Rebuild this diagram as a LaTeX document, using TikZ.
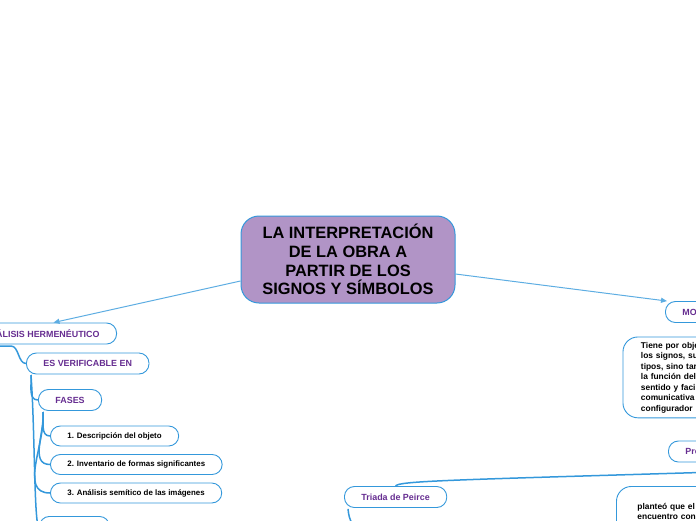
\documentclass[tikz,border=0pt]{standalone}
\usepackage{fontspec}
\setmainfont{Liberation Sans}
\usepackage{tikz}
\usetikzlibrary{arrows.meta,positioning}
\definecolor{mapblue}{RGB}{52,152,219}
\definecolor{linkblue}{RGB}{93,173,226}
\definecolor{hubfill}{RGB}{177,148,198}
\definecolor{labelpurple}{RGB}{102,45,145}

\begin{document}
\begin{tikzpicture}[x=1pt,y=-1pt,
  hub/.style={draw=mapblue,line width=1pt,fill=hubfill,rounded corners=18pt,minimum width=214pt,minimum height=87pt,align=center,font=\fontsize{16.4}{18.7}\selectfont\bfseries},
  topic/.style={draw=mapblue,line width=0.9pt,fill=white,rounded corners=10pt,minimum height=21pt,inner xsep=17pt,inner ysep=0pt,text=labelpurple,font=\fontsize{8.9}{10}\selectfont\bfseries},
  leaf/.style={topic,text=black,minimum height=20pt,font=\fontsize{7.9}{9}\selectfont\bfseries},
  note/.style={draw=mapblue,line width=0.9pt,fill=white,rounded corners=15pt,anchor=north west,align=left,inner xsep=18pt,inner ysep=5pt,text width=90pt,font=\fontsize{8.4}{10.5}\selectfont\bfseries},
  link/.style={linkblue,line width=1pt,-{Triangle[length=6pt,width=5pt]}},
  branch/.style={mapblue,line width=1.5pt}]
\useasboundingbox (0,0) rectangle (696,520);
% central topic
\node[hub] (hub) at (348,259.5) {LA INTERPRETACIÓN\\DE LA OBRA A\\PARTIR DE LOS\\SIGNOS Y SÍMBOLOS};
% left: analisis hermeneutico
\node[topic,anchor=east] (analisis) at (117,333.5) {ANÁLISIS HERMENÉUTICO};
\node[topic,anchor=west] (verifica) at (26,363.5) {ES VERIFICABLE EN};
\node[topic,anchor=west] (fases) at (38,400) {FASES};
\node[leaf,anchor=west] (fase1) at (50,436) {1. Descripción del objeto};
\node[leaf,anchor=west] (fase2) at (50,464.5) {2. Inventario de formas significantes};
\node[leaf,anchor=west] (fase3) at (50,493) {3. Análisis semítico de las imágenes};
\node[topic,anchor=north west,minimum width=70pt] (rama) at (39,516) {};
\coordinate (analisisroot) at (-5,346);
\coordinate (verificaroot) at (31,375);
\coordinate (fasesroot) at (43,412);
\draw[link] ([yshift=-21.5pt]hub.west) -- ([xshift=12pt]analisis.north);
\draw[branch] (analisisroot) -- (11,346) .. controls (19,346) and (18,363.5) .. (verifica.west);
\draw[branch] (verificaroot) to[out=-85,in=180] (fases.west);
\draw[branch] (verificaroot) .. controls (35,430) and (34,526.5) .. (rama.west);
\foreach \i in {1,2,3}
  \draw[branch] (fasesroot) to[out=-85,in=180] (fase\i.west);
% right: mo..., pro..., triada
\node[topic,anchor=west] (mo) at (665,312) {MO};
\node[note] (objeto) at (622.5,336.5) {Tiene por obje\\los signos, su\\tipos, sino tar\\la función del\\sentido y faci\\comunicativa\\configurador};
\node[topic,anchor=west] (pro) at (668,451.5) {Pro};
\node[topic,anchor=west] (triada) at (344,497) {Triada de Peirce};
\node[note,inner xsep=21pt,inner ysep=6pt,minimum height=60pt,font=\fontsize{8.4}{10}\selectfont\bfseries] (planteo) at (616,486) {planteó que el p\\encuentro con u\\era la forma en};
\coordinate (proroot) at (700,472.5);
\coordinate (triadaroot) at (353,526);
\draw[link] ([yshift=-14.5pt]hub.east) -- ([xshift=2pt]mo.north west);
\draw[branch] (proroot) .. controls (450,480) and (398,481) .. (triada.north);
\draw[branch] ([xshift=4pt,yshift=-1pt]triada.south west) .. controls +(1,8) .. (triadaroot);
\end{tikzpicture}
\end{document}
